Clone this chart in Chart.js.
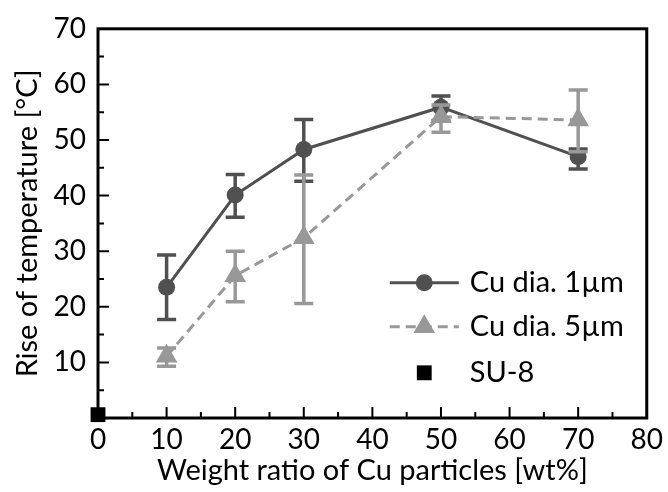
<!DOCTYPE html>
<html>
<head>
<meta charset="utf-8">
<script src="https://cdn.jsdelivr.net/npm/chart.js@4.4.0/dist/chart.umd.min.js"></script>
<style>
  html, body { margin: 0; padding: 0; background: #fff; }
  #wrap { width: 668px; height: 492px; }
</style>
</head>
<body>
<div id="wrap"><canvas id="chart" width="668" height="492"></canvas></div>
<script>
// data
const weightRatio = [10, 20, 30, 50, 70];
const rise1um = [23.5, 40.1, 48.3, 55.9, 47.0];
const err1umLow = [17.7, 36.1, 42.6, 53.5, 44.8];
const err1umHigh = [29.3, 43.8, 53.7, 57.9, 48.4];
const rise5um = [11.1, 25.6, 32.4, 54.2, 53.6];
const err5umLow = [9.3, 20.9, 20.6, 51.4, 47.9];
const err5umHigh = [12.6, 30.0, 43.7, 56.3, 59.0];
const su8X = [0];
const su8Y = [0.6];
const xTickLabels = [0, 10, 20, 30, 40, 50, 60, 70, 80];
const yTickLabels = [10, 20, 30, 40, 50, 60, 70];
const seriesNames = ['Cu dia. 1\u00b5m', 'Cu dia. 5\u00b5m', 'SU-8'];

const DARK = '#505050';
const LIGHT = '#989898';
const FONT = 'Lato';

const toPoints = (xs, ys) => xs.map((x, i) => ({ x: x, y: ys[i] }));

// error bars drawn right after their own dataset
const errorBars = {
  id: 'errorBars',
  afterDatasetDraw(chart, args) {
    const ds = chart.data.datasets[args.index];
    if (!ds.errLow) return;
    const { ctx, scales: { x, y } } = chart;
    ctx.save();
    ctx.strokeStyle = ds.borderColor;
    ctx.lineWidth = 3.5;
    ctx.setLineDash([]);
    ds.data.forEach((p, i) => {
      const px = x.getPixelForValue(p.x);
      const lo = y.getPixelForValue(ds.errLow[i]);
      const hi = y.getPixelForValue(ds.errHigh[i]);
      ctx.beginPath();
      ctx.moveTo(px, lo); ctx.lineTo(px, hi);
      ctx.moveTo(px - 9.5, lo); ctx.lineTo(px + 9.5, lo);
      ctx.moveTo(px - 9.5, hi); ctx.lineTo(px + 9.5, hi);
      ctx.stroke();
    });
    ctx.restore();
  }
};

// box frame with inward major/minor ticks
const frame = {
  id: 'frame',
  beforeDatasetsDraw(chart) {
    const { ctx, chartArea: a, scales: { x, y } } = chart;
    ctx.save();
    ctx.strokeStyle = '#000';
    ctx.lineWidth = 2;
    ctx.beginPath();
    xTickLabels.forEach((v, i) => {
      if (v > x.min && v < x.max) {
        const px = x.getPixelForValue(v);
        ctx.moveTo(px, a.bottom); ctx.lineTo(px, a.bottom - 11);
      }
      if (i < xTickLabels.length - 1) {
        const pm = x.getPixelForValue((v + xTickLabels[i + 1]) / 2);
        ctx.moveTo(pm, a.bottom); ctx.lineTo(pm, a.bottom - 6);
      }
    });
    const yAll = [0].concat(yTickLabels);
    yAll.forEach((v, i) => {
      if (v > y.min && v < y.max) {
        const py = y.getPixelForValue(v);
        ctx.moveTo(a.left, py); ctx.lineTo(a.left + 11, py);
      }
      if (i < yAll.length - 1) {
        const pm = y.getPixelForValue((v + yAll[i + 1]) / 2);
        ctx.moveTo(a.left, pm); ctx.lineTo(a.left + 6, pm);
      }
    });
    ctx.stroke();
    ctx.lineWidth = 3;
    ctx.strokeRect(a.left, a.top, a.right - a.left, a.bottom - a.top);
    ctx.restore();
  }
};

// legend with line + marker samples
const boxLegend = {
  id: 'boxLegend',
  afterDraw(chart) {
    const { ctx, chartArea: a } = chart;
    const x0 = a.right - 257, x1 = a.right - 188, tx = a.right - 177;
    const rows = [a.top + 254, a.top + 298, a.top + 344];
    ctx.save();
    chart.data.datasets.forEach((ds, i) => {
      const yy = rows[i];
      if (ds.showLine) {
        ctx.strokeStyle = ds.borderColor;
        ctx.lineWidth = 3;
        ctx.setLineDash(ds.borderDash || []);
        ctx.beginPath();
        ctx.moveTo(x0, yy); ctx.lineTo(x1, yy);
        ctx.stroke();
        ctx.setLineDash([]);
      }
      ctx.fillStyle = ds.pointBackgroundColor;
      ctx.strokeStyle = ds.pointBackgroundColor;
      ctx.lineWidth = 0;
      Chart.helpers.drawPoint(ctx, {
        pointStyle: ds.pointStyle, radius: ds.pointRadius, borderWidth: 0, rotation: 0
      }, (x0 + x1) / 2, yy);
      ctx.fillStyle = '#000';
      ctx.font = '29px ' + FONT;
      ctx.textBaseline = 'middle';
      ctx.textAlign = 'left';
      ctx.fillText(seriesNames[i], tx, yy);
    });
    ctx.restore();
  }
};

new Chart(document.getElementById('chart'), {
  type: 'scatter',
  data: {
    datasets: [
      {
        label: seriesNames[0],
        data: toPoints(weightRatio, rise1um),
        errLow: err1umLow, errHigh: err1umHigh,
        showLine: true,
        borderColor: DARK, borderWidth: 3,
        pointStyle: 'circle', pointRadius: 8.5,
        pointBackgroundColor: DARK, pointBorderWidth: 0,
        order: 2
      },
      {
        label: seriesNames[1],
        data: toPoints(weightRatio, rise5um),
        errLow: err5umLow, errHigh: err5umHigh,
        showLine: true,
        borderColor: LIGHT, borderWidth: 3, borderDash: [10, 6],
        pointStyle: 'triangle', pointRadius: 12.5,
        pointBackgroundColor: LIGHT, pointBorderWidth: 0,
        order: 1
      },
      {
        label: seriesNames[2],
        data: toPoints(su8X, su8Y),
        showLine: false,
        borderColor: '#000',
        pointStyle: 'rect', pointRadius: 10.5,
        pointBackgroundColor: '#000', pointBorderWidth: 0,
        order: 0
      }
    ]
  },
  options: {
    responsive: false,
    devicePixelRatio: 1,
    animation: false,
    clip: false,
    layout: { padding: { top: 24, right: 16, left: 0, bottom: 0 } },
    plugins: { legend: { display: false }, tooltip: { enabled: false } },
    scales: {
      x: {
        type: 'linear', min: 0, max: 80,
        afterBuildTicks: s => { s.ticks = xTickLabels.map(v => ({ value: v })); },
        afterFit: s => { s.height = 74; },
        grid: { display: false, drawTicks: false },
        border: { display: false },
        ticks: { color: '#000', font: { family: FONT, size: 28 }, padding: 5, maxRotation: 0 },
        title: {
          display: true, text: 'Weight ratio of Cu particles [wt%]',
          color: '#000', font: { family: FONT, size: 29 }, padding: { top: 0, bottom: 4 }
        }
      },
      y: {
        type: 'linear', min: 0, max: 70,
        afterBuildTicks: s => { s.ticks = yTickLabels.map(v => ({ value: v })); },
        afterFit: s => { s.width = 98; },
        grid: { display: false, drawTicks: false },
        border: { display: false },
        ticks: { color: '#000', font: { family: FONT, size: 28 }, padding: 12 },
        title: {
          display: true, text: 'Rise of temperature [\u00b0C]',
          color: '#000', font: { family: FONT, size: 29 }, padding: { top: 10, bottom: 0 }
        }
      }
    }
  },
  plugins: [frame, errorBars, boxLegend]
});
</script>
</body>
</html>
